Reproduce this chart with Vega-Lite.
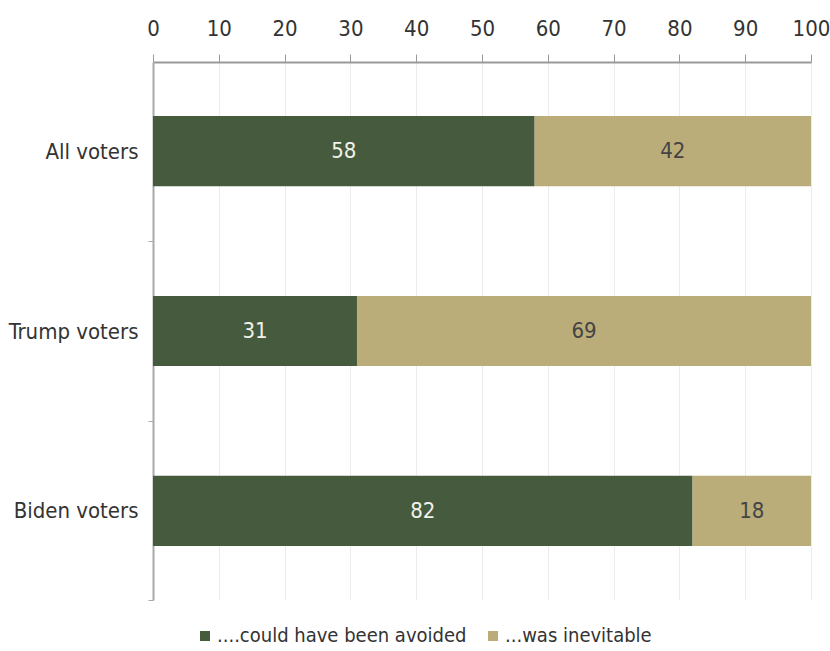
{
  "$schema": "https://vega.github.io/schema/vega-lite/v6.json",
  "autosize": {"type": "none"},
  "width": 658,
  "height": 538,
  "padding": {"left": 153, "top": 62, "right": 19, "bottom": 51},
  "background": "white",
  "config": {
    "font": "DejaVu Sans Condensed",
    "view": {"stroke": null}
  },
  "data": {
    "values": [
      {"group": "All voters", "answer": "....could have been avoided", "k": 1, "pct": 58},
      {"group": "All voters", "answer": "...was inevitable", "k": 2, "pct": 42},
      {"group": "Trump voters", "answer": "....could have been avoided", "k": 1, "pct": 31},
      {"group": "Trump voters", "answer": "...was inevitable", "k": 2, "pct": 69},
      {"group": "Biden voters", "answer": "....could have been avoided", "k": 1, "pct": 82},
      {"group": "Biden voters", "answer": "...was inevitable", "k": 2, "pct": 18}
    ]
  },
  "encoding": {
    "y": {
      "field": "group",
      "type": "nominal",
      "sort": ["All voters", "Trump voters", "Biden voters"],
      "title": null,
      "scale": {"paddingInner": 0.61, "paddingOuter": 0.3},
      "axis": {
        "tickOffset": 89.5,
        "labelOffset": -89.5,
        "tickSize": 5,
        "tickColor": "#aaaaaa",
        "domainColor": "#aaaaaa",
        "domainWidth": 2,
        "labelFont": "DejaVu Sans Condensed",
        "labelFontSize": 22,
        "labelColor": "#333333",
        "labelPadding": 10
      }
    }
  },
  "layer": [
    {
      "mark": {"type": "bar"},
      "encoding": {
        "x": {
          "field": "pct",
          "type": "quantitative",
          "stack": "zero",
          "title": null,
          "scale": {"domain": [0, 100], "nice": false},
          "axis": {
            "orient": "top",
            "values": [0, 10, 20, 30, 40, 50, 60, 70, 80, 90, 100],
            "grid": true,
            "gridColor": "#ececec",
            "tickSize": 8,
            "tickColor": "#999999",
            "domainColor": "#999999",
            "domainWidth": 2,
            "labelFont": "DejaVu Sans Condensed",
            "labelFontSize": 22,
            "labelColor": "#333333",
            "labelPadding": 14,
            "labelFlush": false
          }
        },
        "order": {"field": "k"},
        "color": {
          "field": "answer",
          "type": "nominal",
          "scale": {
            "domain": ["....could have been avoided", "...was inevitable"],
            "range": ["#465a3e", "#bbad79"]
          },
          "legend": {
            "title": null,
            "orient": "none",
            "legendX": 42,
            "legendY": 564,
            "direction": "horizontal",
            "symbolType": "square",
            "symbolSize": 100,
            "symbolStrokeWidth": 0,
            "labelFont": "DejaVu Sans Condensed",
            "labelFontSize": 20,
            "labelColor": "#333333",
            "labelLimit": 400,
            "labelOffset": 2,
            "columnPadding": 16
          }
        }
      }
    },
    {
      "mark": {"type": "text", "fontSize": 22, "font": "DejaVu Sans Condensed"},
      "encoding": {
        "x": {"field": "pct", "type": "quantitative", "stack": "zero", "bandPosition": 0.5},
        "order": {"field": "k"},
        "text": {"field": "pct", "type": "quantitative"},
        "color": {
          "condition": {"test": "datum.k === 1", "value": "#f2f2ea"},
          "value": "#444444"
        }
      }
    }
  ]
}
